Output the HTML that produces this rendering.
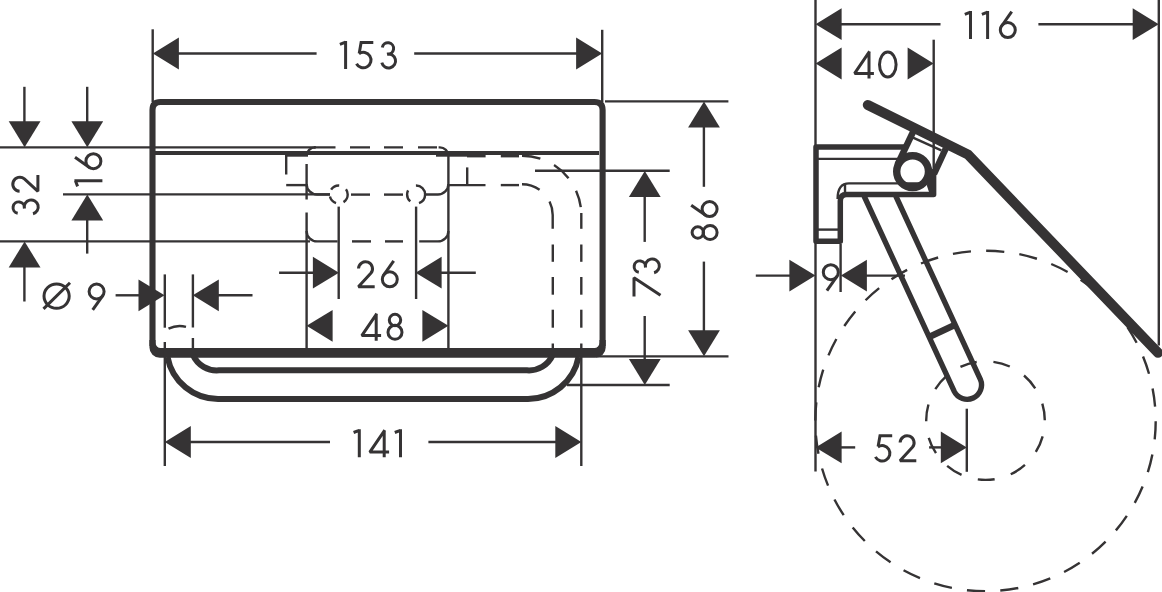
<!DOCTYPE html>
<html><head><meta charset="utf-8"><style>
html,body{margin:0;padding:0;background:#fff;}
svg{display:block;}
line,path,circle,ellipse{stroke:#353334;fill:none;stroke-linecap:butt;}
.f{fill:#353334;stroke:none;}
.t *{stroke:#353334;stroke-width:3.0;fill:none;stroke-miterlimit:2;}
</style></head><body>
<svg width="1162" height="592" viewBox="0 0 1162 592">
<rect width="1162" height="592" fill="#fff"/>
<path d="M152.5,346 V110 Q152.5,102 160.5,102 H594.5 Q602.6,102 602.6,110 V346" stroke-width="6.1" />
<path class="f" d="M149.45,340 V347.5 A10.3,10.3 0 0 0 159.75,357.8 H595.4 A10.3,10.3 0 0 0 605.7,347.5 V340 H599.5 V342.8 A5.2,5.2 0 0 1 594.3,348 H160.7 A5.2,5.2 0 0 1 155.5,342.8 V340 Z"/>
<line x1="155" y1="153" x2="599" y2="153" stroke-width="4" />
<line x1="0" y1="147.4" x2="316" y2="147.4" stroke-width="2.4" />
<line x1="63" y1="194.4" x2="330" y2="194.4" stroke-width="2.4" />
<line x1="0" y1="241.4" x2="310" y2="241.4" stroke-width="2.4" />
<path d="M306.6,156 A8.6,8.6 0 0 1 315.2,147.4" stroke-width="2.4" />
<path d="M314,147.4 H439.8 A8.6,8.6 0 0 1 448.4,156" stroke-width="2.4" stroke-dasharray="21.5 14.5 20 14 19 15 19 1.6 30"/>
<line x1="448.4" y1="153" x2="448.4" y2="349" stroke-width="2.4" />
<line x1="306.6" y1="164" x2="306.6" y2="199.5" stroke-width="2.4" />
<line x1="306.6" y1="212.5" x2="306.6" y2="349" stroke-width="2.4" />
<path d="M306.6,184 A10.5,10.5 0 0 0 317.1,194.5 H330" stroke-width="2.4" />
<path d="M448.4,184 A10.5,10.5 0 0 1 437.9,194.5 H424.5" stroke-width="2.4" />
<line x1="351" y1="194.6" x2="370" y2="194.6" stroke-width="2.4" />
<line x1="384" y1="194.6" x2="403" y2="194.6" stroke-width="2.4" />
<path d="M306.6,230.9 A10.5,10.5 0 0 0 317.1,241.4 H337.6" stroke-width="2.4" />
<path d="M448.4,230.9 A10.5,10.5 0 0 1 437.9,241.4 H419.2" stroke-width="2.4" />
<line x1="352" y1="241.4" x2="371" y2="241.4" stroke-width="2.4" />
<line x1="385" y1="241.4" x2="403" y2="241.4" stroke-width="2.4" />
<circle cx="338.7" cy="194.5" r="9" fill="none" stroke-width="2.4" stroke-dasharray="9 7.76 9.22 7.18 9.5 7.87 6.03 0"/>
<line x1="338.7" y1="206.6" x2="338.7" y2="299" stroke-width="2.4" />
<circle cx="416.1" cy="194.5" r="9" fill="none" stroke-width="2.4" stroke-dasharray="11.09 9.27 11.99 9.6 14.61 0"/>
<line x1="416.1" y1="206.6" x2="416.1" y2="299" stroke-width="2.4" />
<line x1="286.2" y1="155" x2="286.2" y2="174.5" stroke-width="2.4" />
<line x1="286.2" y1="185.1" x2="306.6" y2="185.1" stroke-width="2.4" />
<line x1="285" y1="155.6" x2="308" y2="155.6" stroke-width="2.2" />
<line x1="436" y1="155.6" x2="467.4" y2="155.6" stroke-width="2.2" />
<line x1="467.2" y1="167.4" x2="467.2" y2="185.1" stroke-width="2.4" />
<line x1="448.4" y1="185.1" x2="485.5" y2="185.1" stroke-width="2.4" />
<line x1="467" y1="156.2" x2="485.6" y2="156.2" stroke-width="2.4" />
<line x1="500.8" y1="156.2" x2="519" y2="156.2" stroke-width="2.4" />
<line x1="500.8" y1="185.1" x2="519" y2="185.1" stroke-width="2.4" />
<path d="M522,155.7 A59.3,59.3 0 0 1 581.3,215" stroke-width="2.4" stroke-dasharray="18.7 15.1 19.6 14.5 17.2 100"/>
<path d="M522,184.3 A30.7,30.7 0 0 1 552.7,215 V228.8" stroke-width="2.4" stroke-dasharray="18.7 15.4 40"/>
<line x1="581.3" y1="213" x2="581.3" y2="228.8" stroke-width="2.4" />
<line x1="581.3" y1="244.5" x2="581.3" y2="261.8" stroke-width="2.4" />
<line x1="581.3" y1="277" x2="581.3" y2="294.7" stroke-width="2.4" />
<line x1="581.3" y1="309.7" x2="581.3" y2="327.7" stroke-width="2.4" />
<line x1="581.3" y1="343.5" x2="581.3" y2="350" stroke-width="2.4" />
<line x1="552.8" y1="244.5" x2="552.8" y2="261.8" stroke-width="2.4" />
<line x1="552.8" y1="277" x2="552.8" y2="294.7" stroke-width="2.4" />
<line x1="552.8" y1="309.7" x2="552.8" y2="327.7" stroke-width="2.4" />
<line x1="552.8" y1="343.5" x2="552.8" y2="350" stroke-width="2.4" />
<path d="M167.5,357 A51.5,51.5 0 0 0 219,399 H527 A51.5,51.5 0 0 0 578.5,357" stroke-width="6" />
<path d="M193,355 A26,26 0 0 0 219,370.3 H527 A26,26 0 0 0 552.7,355" stroke-width="6" />
<line x1="164.8" y1="274.4" x2="164.8" y2="327.7" stroke-width="2.4" />
<line x1="164.8" y1="342" x2="164.8" y2="466" stroke-width="2.4" />
<line x1="192.9" y1="274.4" x2="192.9" y2="327.5" stroke-width="2.4" />
<line x1="192.9" y1="338" x2="192.9" y2="350" stroke-width="2.4" />
<path d="M168.5,328.6 Q177,324.5 186,326.8" stroke-width="2.4" />
<line x1="581.3" y1="357" x2="581.3" y2="466" stroke-width="2.4" />
<line x1="152.7" y1="29.3" x2="152.7" y2="102" stroke-width="2.4" />
<line x1="602.2" y1="29.8" x2="602.2" y2="102" stroke-width="2.4" />
<polygon points="152.9,53.5 178.9,37.6 178.9,69.4" class="f"/>
<polygon points="602.1,53.5 576.1,37.6 576.1,69.4" class="f"/>
<line x1="178" y1="53.5" x2="316.6" y2="53.5" stroke-width="2.4" />
<line x1="414.2" y1="53.5" x2="577" y2="53.5" stroke-width="2.4" />
<g transform="translate(339.5,41.1)" class="t"><path d="M0.4,3.2 L6,1 M6.1,0 V28"/></g>
<g transform="translate(354.9,41.1)" class="t"><path d="M18.4,1.5 H6.2 L4.3,12.3 M4.1,12.6 A7.7,7.7 0 1 1 1.6,22.6"/></g>
<g transform="translate(380,41.1)" class="t"><path d="M2.3,6.3 A5.7,5.7 0 1 1 7.2,13 M7.0,13.0 A7,7 0 1 1 1.8,21.6"/></g>
<line x1="24.4" y1="86.8" x2="24.4" y2="125" stroke-width="2.4" />
<polygon points="24.6,147.2 8.7,121.2 40.5,121.2" class="f"/>
<polygon points="24.6,241.5 8.7,267.5 40.5,267.5" class="f"/>
<line x1="24.4" y1="265" x2="24.4" y2="301.5" stroke-width="2.4" />
<g transform="translate(11.4,215.5) rotate(-90)" class="t"><path d="M2.3,6.3 A5.7,5.7 0 1 1 7.2,13 M7.0,13.0 A7,7 0 1 1 1.8,21.6"/></g>
<g transform="translate(11.4,192.5) rotate(-90)" class="t"><path d="M1.3,8.2 A7,7 0 1 1 13.6,13 L1.2,26.5 H17.5"/></g>
<line x1="87.2" y1="86.8" x2="87.2" y2="125" stroke-width="2.4" />
<polygon points="87.3,147.2 71.4,121.2 103.2,121.2" class="f"/>
<polygon points="87.3,194.4 71.4,220.4 103.2,220.4" class="f"/>
<line x1="87.2" y1="218" x2="87.2" y2="253.6" stroke-width="2.4" />
<g transform="translate(74.4,186.8) rotate(-90)" class="t"><path d="M0.4,3.2 L6,1 M6.1,0 V28"/></g>
<g transform="translate(74.4,170.4) rotate(-90)" class="t"><path d="M13.1,0.6 L2.7,15.4"/><circle cx="9.2" cy="19" r="7.5"/></g>
<line x1="115.6" y1="295.3" x2="140" y2="295.3" stroke-width="2.4" />
<polygon points="164.5,295.3 138.5,279.4 138.5,311.2" class="f"/>
<polygon points="192.8,295.3 218.8,279.4 218.8,311.2" class="f"/>
<line x1="217" y1="295.3" x2="252.5" y2="295.3" stroke-width="2.4" />
<g transform="translate(42.6,282.5)" class="t"><ellipse cx="14" cy="13.6" rx="12.6" ry="12.2"/><path d="M0.9,26.4 L27.4,0.2"/></g>
<g transform="translate(87.4,282.5)" class="t"><path d="M5.3,27.4 L15.7,12.6"/><circle cx="9.2" cy="9" r="7.5"/></g>
<line x1="279.1" y1="272.7" x2="315" y2="272.7" stroke-width="2.4" />
<polygon points="338.9,272.7 312.9,256.8 312.9,288.6" class="f"/>
<polygon points="415.6,272.7 441.6,256.8 441.6,288.6" class="f"/>
<line x1="440" y1="272.7" x2="475.8" y2="272.7" stroke-width="2.4" />
<g transform="translate(357.2,260.3)" class="t"><path d="M1.3,8.2 A7,7 0 1 1 13.6,13 L1.2,26.5 H17.5"/></g>
<g transform="translate(380.6,260.3)" class="t"><path d="M13.1,0.6 L2.7,15.4"/><circle cx="9.2" cy="19" r="7.5"/></g>
<polygon points="306.6,325.8 332.6,309.9 332.6,341.7" class="f"/>
<polygon points="448.4,325.8 422.4,309.9 422.4,341.7" class="f"/>
<g transform="translate(360.6,312.8)" class="t"><path d="M16.2,0.8 L1.2,22.8 H20.5 M15.6,1 V28"/></g>
<g transform="translate(386,312.8)" class="t"><circle cx="9" cy="7.2" r="5.7"/><circle cx="9" cy="19.5" r="7"/></g>
<polygon points="164.8,442 190.8,426.1 190.8,457.9" class="f"/>
<polygon points="581.3,442 555.3,426.1 555.3,457.9" class="f"/>
<line x1="189" y1="442" x2="330" y2="442" stroke-width="2.4" />
<line x1="428.4" y1="442" x2="557" y2="442" stroke-width="2.4" />
<g transform="translate(353.2,429.3)" class="t"><path d="M0.4,3.2 L6,1 M6.1,0 V28"/></g>
<g transform="translate(368.6,429.3)" class="t"><path d="M16.2,0.8 L1.2,22.8 H20.5 M15.6,1 V28"/></g>
<g transform="translate(394.4,429.3)" class="t"><path d="M0.4,3.2 L6,1 M6.1,0 V28"/></g>
<line x1="605" y1="101.4" x2="728.4" y2="101.4" stroke-width="2.4" />
<line x1="535" y1="170.8" x2="669.7" y2="170.8" stroke-width="2.4" />
<line x1="596" y1="356.4" x2="728.5" y2="356.4" stroke-width="2.4" />
<line x1="567" y1="385" x2="669.7" y2="385" stroke-width="2.4" />
<polygon points="704,101.6 688.1,127.6 719.9,127.6" class="f"/>
<line x1="703.9" y1="125" x2="703.9" y2="186.8" stroke-width="2.4" />
<polygon points="704,356.3 688.1,330.3 719.9,330.3" class="f"/>
<line x1="703.9" y1="261.6" x2="703.9" y2="333" stroke-width="2.4" />
<g transform="translate(690.6,241.5) rotate(-90)" class="t"><circle cx="9" cy="7.2" r="5.7"/><circle cx="9" cy="19.5" r="7"/></g>
<g transform="translate(690.6,218.3) rotate(-90)" class="t"><path d="M13.1,0.6 L2.7,15.4"/><circle cx="9.2" cy="19" r="7.5"/></g>
<polygon points="644.8,171 628.9,197 660.7,197" class="f"/>
<line x1="644.7" y1="194" x2="644.7" y2="241.9" stroke-width="2.4" />
<polygon points="644.8,384.9 628.9,358.9 660.7,358.9" class="f"/>
<line x1="644.7" y1="316" x2="644.7" y2="361" stroke-width="2.4" />
<g transform="translate(632.5,296.6) rotate(-90)" class="t"><path d="M0,1.5 H18.8 L1.3,28"/></g>
<g transform="translate(632.5,274.5) rotate(-90)" class="t"><path d="M2.3,6.3 A5.7,5.7 0 1 1 7.2,13 M7.0,13.0 A7,7 0 1 1 1.8,21.6"/></g>
<line x1="815.5" y1="0" x2="815.5" y2="471.5" stroke-width="2.4" />
<line x1="1158.8" y1="0" x2="1158.8" y2="345.4" stroke-width="2.4" />
<line x1="933.7" y1="39.7" x2="933.7" y2="191" stroke-width="2.4" />
<line x1="840.6" y1="244" x2="840.6" y2="292" stroke-width="2.4" />
<line x1="966.8" y1="408.7" x2="966.8" y2="471.8" stroke-width="2.4" />
<polygon points="815.6,24.2 841.6,8.3 841.6,40.1" class="f"/>
<polygon points="1158.7,24.2 1132.7,8.3 1132.7,40.1" class="f"/>
<line x1="839" y1="24.2" x2="940.5" y2="24.2" stroke-width="2.4" />
<line x1="1038.4" y1="24.2" x2="1135" y2="24.2" stroke-width="2.4" />
<g transform="translate(964.4,11.1)" class="t"><path d="M0.4,3.2 L6,1 M6.1,0 V28"/></g>
<g transform="translate(981.5,11.1)" class="t"><path d="M0.4,3.2 L6,1 M6.1,0 V28"/></g>
<g transform="translate(998.6,11.1)" class="t"><path d="M13.1,0.6 L2.7,15.4"/><circle cx="9.2" cy="19" r="7.5"/></g>
<polygon points="815.6,63.5 841.6,47.6 841.6,79.4" class="f"/>
<polygon points="933.6,63.5 907.6,47.6 907.6,79.4" class="f"/>
<g transform="translate(853.4,50.6)" class="t"><path d="M16.2,0.8 L1.2,22.8 H20.5 M15.6,1 V28"/></g>
<g transform="translate(878,50.6)" class="t"><ellipse cx="9.8" cy="14" rx="8.3" ry="12.5"/></g>
<line x1="755.8" y1="275.6" x2="792" y2="275.6" stroke-width="2.4" />
<polygon points="815.4,275.6 789.4,259.7 789.4,291.5" class="f"/>
<polygon points="840.9,275.6 866.9,259.7 866.9,291.5" class="f"/>
<line x1="865" y1="275.6" x2="905" y2="275.6" stroke-width="2.4" />
<g transform="translate(821.6,263.2)" class="t"><path d="M5.3,27.4 L15.7,12.6"/><circle cx="9.2" cy="9" r="7.5"/></g>
<polygon points="815.6,447.4 841.6,431.5 841.6,463.3" class="f"/>
<line x1="840" y1="447.4" x2="855.2" y2="447.4" stroke-width="2.4" />
<polygon points="966.8,447.4 940.8,431.5 940.8,463.3" class="f"/>
<line x1="929.1" y1="447.4" x2="943" y2="447.4" stroke-width="2.4" />
<g transform="translate(873.8,434.3)" class="t"><path d="M18.4,1.5 H6.2 L4.3,12.3 M4.1,12.6 A7.7,7.7 0 1 1 1.6,22.6"/></g>
<g transform="translate(898.8,434.3)" class="t"><path d="M1.3,8.2 A7,7 0 1 1 13.6,13 L1.2,26.5 H17.5"/></g>
<circle cx="985.5" cy="421" r="170.2" fill="none" stroke-width="2.4" stroke-dasharray="18.2 15.22" stroke-dashoffset="-0.3"/>
<circle cx="985.5" cy="420.6" r="59.3" fill="none" stroke-width="2.4" stroke-dasharray="17 16.87" stroke-dashoffset="17.83"/>
<path d="M905,147 H816 V241.3 H840.3 V201 Q840.3,194.6 846.5,194.6 H933.6 V174" stroke-width="5.5" style="stroke-linejoin:round"/>
<line x1="818" y1="158.9" x2="898" y2="158.9" stroke-width="2.4" />
<line x1="818" y1="229.6" x2="838" y2="229.6" stroke-width="2.4" />
<path d="M837.6,199 Q837.6,183.4 849,183.4 H928" stroke-width="2.4" />
<line x1="845" y1="183.4" x2="845" y2="194" stroke-width="2.4" />
<circle cx="912.6" cy="171.6" r="15.9" fill="none" stroke-width="7.4"/>
<line x1="897.5" y1="164.7" x2="913.3" y2="131.4" stroke-width="6.5" />
<line x1="945.8" y1="148.5" x2="934" y2="174" stroke-width="6.5" />
<polygon points="928.5,168 936,170 936,192 929,192 927,186" class="f"/>
<line x1="913" y1="137.6" x2="941.3" y2="150.3" stroke-width="2.4" />
<path d="M867.8,104.9 L968,154.6 L1158,352.8" stroke-width="10" style="stroke-linejoin:miter;stroke-linecap:round"/>
<path d="M864.07,196 L954.23,391.33 A14.4,14.4 0 0 0 980.37,379.27 L895.79,196" stroke-width="5.4" />
<line x1="929.11" y1="336.92" x2="955.26" y2="324.85" stroke-width="6.6" />
</svg>
</body></html>
